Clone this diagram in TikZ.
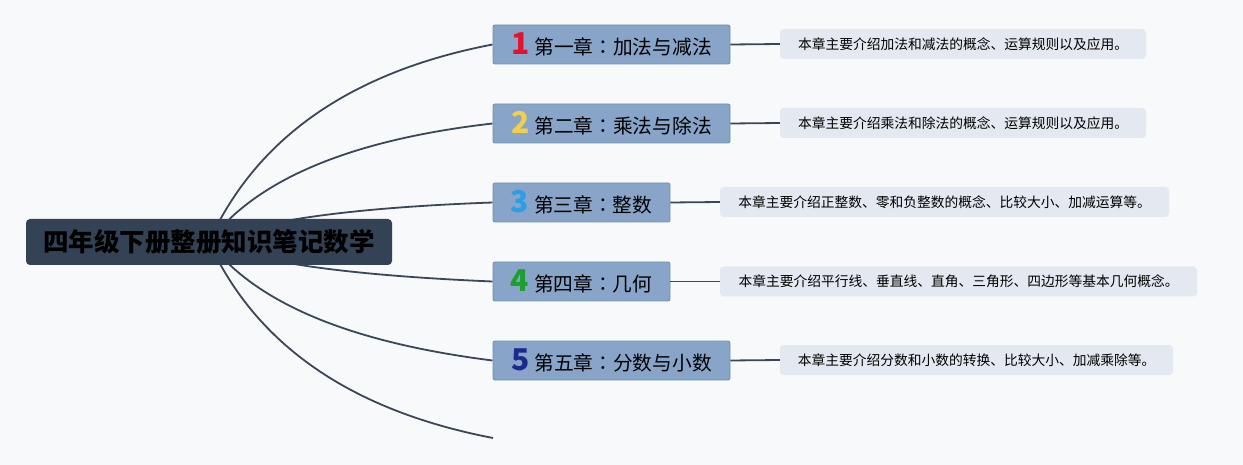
\documentclass[tikz,border=0pt]{standalone}
\usepackage{fontspec}
\newfontfamily\cjk{Noto Sans CJK SC}
\newfontfamily\cjkjp{Noto Sans CJK JP}
\pgfdeclarelayer{bg}
\pgfsetlayers{bg,main}
\definecolor{bgcol}{HTML}{F8F9FA}
\definecolor{rootcol}{HTML}{344256}
\definecolor{chapfill}{HTML}{88A4C8}
\definecolor{chapline}{HTML}{6E98A6}
\definecolor{descfill}{HTML}{E4E9F1}
\definecolor{linkcol}{HTML}{3B4659}
\definecolor{numA}{HTML}{E0142B}
\definecolor{numB}{HTML}{F2CF4B}
\definecolor{numC}{HTML}{2B9FE3}
\definecolor{numD}{HTML}{1E9E2E}
\definecolor{numE}{HTML}{1C2A8C}
\newcommand{\chapnum}[2]{{\color{#1}\fontsize{30}{30}\selectfont\bfseries #2}\hspace{5pt}}
\newcommand{\colonmark}{{\cjkjp ：}}
\begin{document}
\begin{tikzpicture}[x=1pt,y=-1pt,
  rootbox/.style={fill=rootcol, rounded corners=4pt, minimum width=366pt, minimum height=46pt,
    inner sep=0pt, text=black, font=\cjk\bfseries\fontsize{25.5}{26}\selectfont},
  chapbox/.style={fill=chapfill, draw=chapline, line width=0.9pt, rounded corners=2pt,
    minimum height=39pt, inner sep=0pt, text=black, font=\cjk\fontsize{19.7}{22}\selectfont},
  descbox/.style={fill=descfill, rounded corners=3.5pt, minimum height=30pt, inner sep=0pt,
    text=black, font=\cjk\fontsize{13.75}{16}\selectfont},
  link/.style={draw=linkcol, line width=1.8pt},
  branchcurve/.style={draw=linkcol, line width=1.8pt}]
\useasboundingbox (0,0) rectangle (1243,465);

\node[rootbox] (root) at (209,242) {四年级下册整册知识笔记数学};

\node[chapbox, minimum width=237pt] (c1) at (611.5,44.5) {\chapnum{numA}{1}第一章\colonmark 加法与减法};
\node[chapbox, minimum width=237pt] (c2) at (611.5,123.5) {\chapnum{numB}{2}第二章\colonmark 乘法与除法};
\node[chapbox, minimum width=177pt] (c3) at (581.5,202.5) {\chapnum{numC}{3}第三章\colonmark 整数};
\node[chapbox, minimum width=177pt] (c4) at (581.5,281.5) {\chapnum{numD}{4}第四章\colonmark 几何};
\node[chapbox, minimum width=237pt] (c5) at (611.5,360.5) {\chapnum{numE}{5}第五章\colonmark 分数与小数};
\coordinate (c6) at (493,438);

\node[descbox, minimum width=366pt] (d1) at (963,44) {本章主要介绍加法和减法的概念、运算规则以及应用。};
\node[descbox, minimum width=366pt] (d2) at (963,123) {本章主要介绍乘法和除法的概念、运算规则以及应用。};
\node[descbox, minimum width=449pt] (d3) at (944.5,202) {本章主要介绍正整数、零和负整数的概念、比较大小、加减运算等。};
\node[descbox, minimum width=477pt] (d4) at (958.5,281.5) {本章主要介绍平行线、垂直线、直角、三角形、四边形等基本几何概念。};
\node[descbox, minimum width=393pt] (d5) at (976.5,360) {本章主要介绍分数和小数的转换、比较大小、加减乘除等。};

\foreach \i in {1,...,5} {\draw[link] (c\i.east) -- (d\i.west);}

\begin{pgfonlayer}{bg}
\fill[bgcol] (0,0) rectangle (1243,465);
\draw[branchcurve] (root.center) .. controls (256.3,137.7) and (351,71.7) .. (c1.west);
\draw[branchcurve] (root.center) .. controls (256.3,179.3) and (351,139.7) .. (c2.west);
\draw[branchcurve] (root.center) .. controls (256.3,220.9) and (351,207.6) .. (c3.west);
\draw[branchcurve] (root.center) .. controls (256.3,262.6) and (351,275.5) .. (c4.west);
\draw[branchcurve] (root.center) .. controls (256.3,303.7) and (351,342.6) .. (c5.west);
\draw[branchcurve] (root.center) .. controls (256.3,345.3) and (351,410.6) .. (c6);
\end{pgfonlayer}
\end{tikzpicture}
\end{document}
